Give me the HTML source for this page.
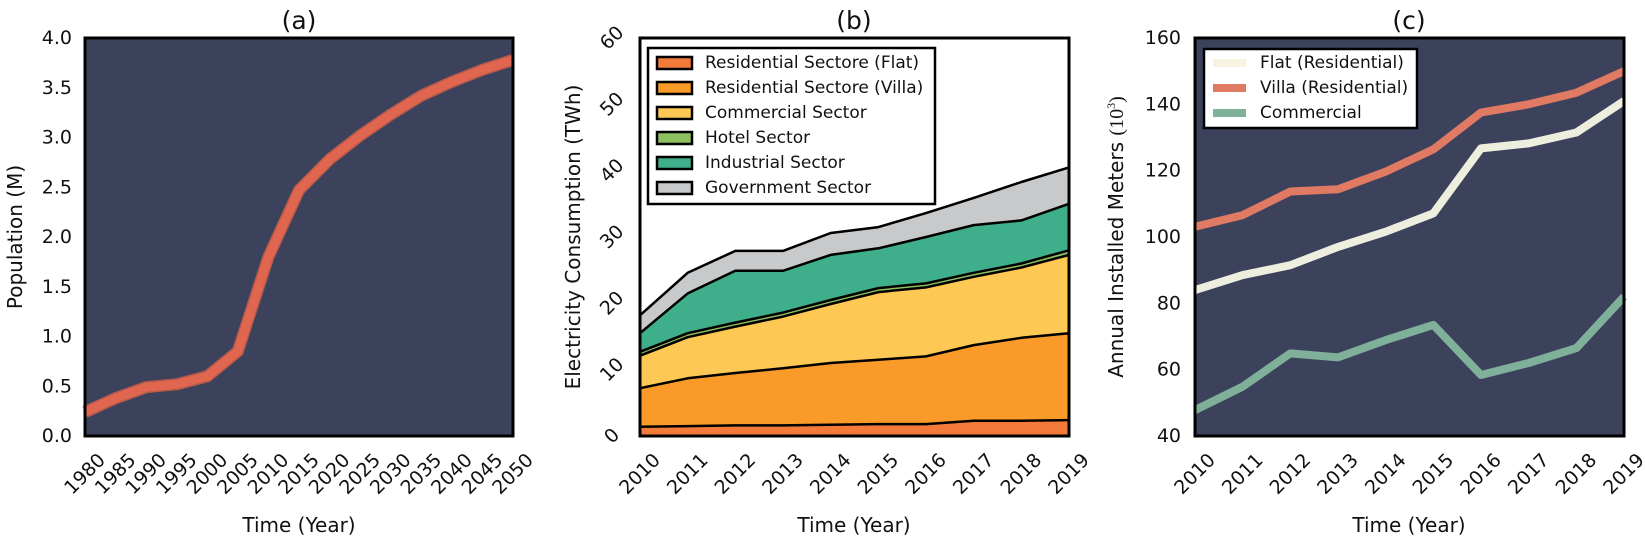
<!DOCTYPE html>
<html><head><meta charset="utf-8"><style>
html,body{margin:0;padding:0;background:#fff;}
svg{display:block;font-family:"DejaVu Sans","Liberation Sans",sans-serif;}
</style></head><body>
<svg id="s" width="1645" height="540" viewBox="0 0 1645 540" xmlns="http://www.w3.org/2000/svg">
<rect width="1645" height="540" fill="#fff"/>
<rect x="85" y="38" width="428" height="398" fill="#3d425c"/>
<rect x="1195" y="38" width="429" height="398" fill="#3d425c"/>
<g id="ga"></g><g id="gb"></g><g id="gc"></g>
<rect x="85" y="38" width="428" height="398" fill="none" stroke="#000" stroke-width="3"/>
<rect x="640" y="38" width="429" height="398" fill="none" stroke="#000" stroke-width="3"/>
<rect x="1195" y="38" width="429" height="398" fill="none" stroke="#000" stroke-width="3"/>

<g font-size="25" text-anchor="middle" fill="#111">
<text x="299" y="29">(a)</text><text x="854" y="29">(b)</text><text x="1409" y="29">(c)</text>
</g>
<g font-size="20" text-anchor="middle" fill="#111">
<text x="299" y="532">Time (Year)</text><text x="854" y="532">Time (Year)</text><text x="1409" y="532">Time (Year)</text>
<text transform="translate(22,237) rotate(-90)">Population (M)</text>
<text transform="translate(580,237) rotate(-90)">Electricity Consumption (TWh)</text>
<text transform="translate(1123,237) rotate(-90)">Annual Installed Meters <tspan font-family="Liberation Serif,serif">(10</tspan><tspan font-family="Liberation Serif,serif" font-size="12" dy="-8">3</tspan><tspan font-family="Liberation Serif,serif" dy="8">)</tspan></text>
</g>
<g font-size="19" text-anchor="end" fill="#111" dominant-baseline="central">
<text x="72" y="436">0.0</text><text x="72" y="386.3">0.5</text><text x="72" y="336.5">1.0</text><text x="72" y="286.8">1.5</text><text x="72" y="237">2.0</text><text x="72" y="187.3">2.5</text><text x="72" y="137.5">3.0</text><text x="72" y="87.8">3.5</text><text x="72" y="38">4.0</text>
<text x="1181" y="436">40</text><text x="1181" y="369.7">60</text><text x="1181" y="303.3">80</text><text x="1181" y="237">100</text><text x="1181" y="170.7">120</text><text x="1181" y="104.3">140</text><text x="1181" y="38">160</text>
</g>
<g font-size="19" text-anchor="middle" fill="#111" dominant-baseline="central">
<text transform="translate(612,436) rotate(-45)">0</text>
<text transform="translate(612,369.7) rotate(-45)">10</text>
<text transform="translate(612,303.3) rotate(-45)">20</text>
<text transform="translate(612,237) rotate(-45)">30</text>
<text transform="translate(612,170.7) rotate(-45)">40</text>
<text transform="translate(612,104.3) rotate(-45)">50</text>
<text transform="translate(612,38) rotate(-45)">60</text>
<text transform="translate(85,474) rotate(-45)">1980</text>
<text transform="translate(115.6,474) rotate(-45)">1985</text>
<text transform="translate(146.1,474) rotate(-45)">1990</text>
<text transform="translate(176.7,474) rotate(-45)">1995</text>
<text transform="translate(207.3,474) rotate(-45)">2000</text>
<text transform="translate(237.9,474) rotate(-45)">2005</text>
<text transform="translate(268.4,474) rotate(-45)">2010</text>
<text transform="translate(299,474) rotate(-45)">2015</text>
<text transform="translate(329.6,474) rotate(-45)">2020</text>
<text transform="translate(360.1,474) rotate(-45)">2025</text>
<text transform="translate(390.7,474) rotate(-45)">2030</text>
<text transform="translate(421.3,474) rotate(-45)">2035</text>
<text transform="translate(451.9,474) rotate(-45)">2040</text>
<text transform="translate(482.4,474) rotate(-45)">2045</text>
<text transform="translate(513,474) rotate(-45)">2050</text>
<text transform="translate(640,474) rotate(-45)">2010</text>
<text transform="translate(687.7,474) rotate(-45)">2011</text>
<text transform="translate(735.3,474) rotate(-45)">2012</text>
<text transform="translate(783,474) rotate(-45)">2013</text>
<text transform="translate(830.7,474) rotate(-45)">2014</text>
<text transform="translate(878.3,474) rotate(-45)">2015</text>
<text transform="translate(926,474) rotate(-45)">2016</text>
<text transform="translate(973.7,474) rotate(-45)">2017</text>
<text transform="translate(1021.3,474) rotate(-45)">2018</text>
<text transform="translate(1069,474) rotate(-45)">2019</text>
<text transform="translate(1195,474) rotate(-45)">2010</text>
<text transform="translate(1242.7,474) rotate(-45)">2011</text>
<text transform="translate(1290.3,474) rotate(-45)">2012</text>
<text transform="translate(1338,474) rotate(-45)">2013</text>
<text transform="translate(1385.7,474) rotate(-45)">2014</text>
<text transform="translate(1433.3,474) rotate(-45)">2015</text>
<text transform="translate(1481,474) rotate(-45)">2016</text>
<text transform="translate(1528.7,474) rotate(-45)">2017</text>
<text transform="translate(1576.3,474) rotate(-45)">2018</text>
<text transform="translate(1624,474) rotate(-45)">2019</text>
</g>

<rect x="648" y="48" width="287" height="156" fill="#fff" stroke="#000" stroke-width="2.5"/>
<g stroke="#000" stroke-width="2.5">
<rect x="657" y="57" width="35" height="12" fill="#f47a3a"/>
<rect x="657" y="82" width="35" height="12" fill="#fa9a28"/>
<rect x="657" y="107" width="35" height="12" fill="#fdc853"/>
<rect x="657" y="132" width="35" height="12" fill="#8dc061"/>
<rect x="657" y="157" width="35" height="12" fill="#3fae8a"/>
<rect x="657" y="182" width="35" height="12" fill="#c8c9cb"/>
</g>
<g font-size="17" fill="#111" dominant-baseline="central">
<text x="705" y="63">Residential Sectore (Flat)</text>
<text x="705" y="88">Residential Sectore (Villa)</text>
<text x="705" y="113">Commercial Sector</text>
<text x="705" y="138">Hotel Sector</text>
<text x="705" y="163">Industrial Sector</text>
<text x="705" y="188">Government Sector</text>
</g>
<rect x="1204" y="49" width="213" height="79" fill="#fff" stroke="#000" stroke-width="2.5"/>
<g stroke-width="8">
<line x1="1213" y1="63" x2="1246" y2="63" stroke="#f6f4e0"/>
<line x1="1213" y1="88" x2="1246" y2="88" stroke="#e07a62"/>
<line x1="1213" y1="113" x2="1246" y2="113" stroke="#7fb09a"/>
</g>
<g font-size="17" fill="#111" dominant-baseline="central">
<text x="1260" y="63">Flat (Residential)</text>
<text x="1260" y="88">Villa (Residential)</text>
<text x="1260" y="113">Commercial</text>
</g>
</svg>
<script>
(function(){
var NS="http://www.w3.org/2000/svg";
function el(p,t,a){var e=document.createElementNS(NS,t);for(var k in a)e.setAttribute(k,a[k]);p.appendChild(e);return e;}
var pop=[0.24,0.38,0.49,0.52,0.6,0.85,1.8,2.47,2.78,3.02,3.23,3.42,3.56,3.68,3.78];
var pts=pop.map(function(v,i){return (85+i*30.57).toFixed(1)+","+(436-v*99.5).toFixed(1);}).join(" ");
var ga=document.getElementById("ga");
el(ga,"polyline",{points:pts,fill:"none",stroke:"#b85a4a",'stroke-width':12,'stroke-linejoin':"round"});
el(ga,"polyline",{points:pts,fill:"none",stroke:"#e0664f",'stroke-width':9,'stroke-linejoin':"round"});
var tops=[
[1.4,1.5,1.6,1.6,1.7,1.8,1.8,2.3,2.3,2.4],
[7.2,8.7,9.5,10.2,11,11.5,12,13.7,14.8,15.5],
[12.1,14.9,16.5,18,19.9,21.7,22.4,24,25.4,27.3],
[12.7,15.5,17.1,18.6,20.5,22.3,23,24.6,26,28],
[15.5,21.5,24.9,24.9,27.3,28.3,30,31.8,32.5,35],
[18.2,24.6,27.9,27.9,30.6,31.5,33.6,35.9,38.3,40.5]];
var cols=["#f47a3a","#fa9a28","#fdc853","#8dc061","#3fae8a","#c8c9cb"];
var gb=document.getElementById("gb");
function X(i){return 640+i*47.67;} function Y(v){return 436-v*6.633;}
for(var s=5;s>=0;s--){
  var d="M"+X(0)+","+Y(0);
  for(var i=0;i<10;i++) d+=" L"+X(i).toFixed(1)+","+Y(tops[s][i]).toFixed(1);
  d+=" L"+X(9)+","+Y(0)+" Z";
  el(gb,"path",{d:d,fill:cols[s]});
}
for(var s=0;s<6;s++){
  var p=tops[s].map(function(v,i){return X(i).toFixed(1)+","+Y(v).toFixed(1);}).join(" ");
  el(gb,"polyline",{points:p,fill:"none",stroke:"#000",'stroke-width':2.5,'stroke-linejoin':"round"});
}
var gc=document.getElementById("gc");
var series=[
[[103.1,106.6,113.7,114.4,119.7,126.4,137.5,140,143.5,150],"#e07a62"],
[[84,88.5,91.5,97,101.6,107.1,126.7,128.2,131.5,141],"#eeeedf"],
[[47.8,54.9,64.9,63.7,68.9,73.5,58.4,62,66.5,82],"#7fb09a"]];
series.forEach(function(sr){
  var p=sr[0].map(function(v,i){return (1195+i*47.67).toFixed(1)+","+(436-(v-40)*3.317).toFixed(1);}).join(" ");
  el(gc,"polyline",{points:p,fill:"none",stroke:sr[1],'stroke-width':8,'stroke-linejoin':"round"});
});
})();
</script>
</body></html>
